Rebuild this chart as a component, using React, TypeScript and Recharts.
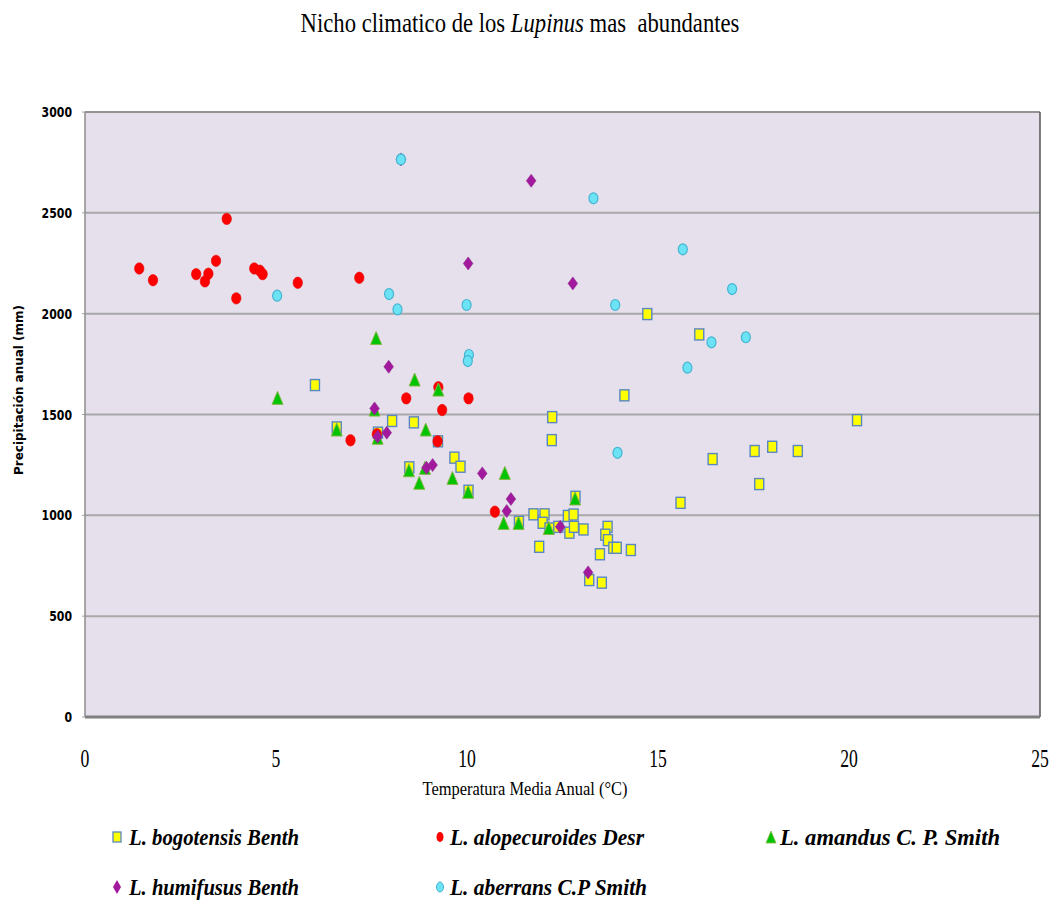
import { CartesianGrid, ReferenceLine, Scatter, ScatterChart, XAxis, YAxis } from "recharts";

// temperatura media anual (°C) / precipitación anual (mm)
const bogotensis = [
  { t: 6.02, p: 1646 }, { t: 6.59, p: 1436 }, { t: 7.67, p: 1410 }, { t: 8.04, p: 1468 },
  { t: 8.61, p: 1461 }, { t: 9.24, p: 1367 }, { t: 9.67, p: 1286 }, { t: 9.83, p: 1241 },
  { t: 8.49, p: 1238 }, { t: 10.04, p: 1122 }, { t: 11.74, p: 1005 }, { t: 11.36, p: 968 },
  { t: 12.23, p: 1487 }, { t: 12.22, p: 1373 }, { t: 12.03, p: 1005 }, { t: 11.98, p: 963 },
  { t: 12.16, p: 935 }, { t: 11.89, p: 844 }, { t: 12.39, p: 943 }, { t: 12.64, p: 997 },
  { t: 12.79, p: 1004 }, { t: 12.84, p: 1092 }, { t: 12.68, p: 914 }, { t: 12.8, p: 943 },
  { t: 13.05, p: 930 }, { t: 13.68, p: 943 }, { t: 13.62, p: 904 }, { t: 13.69, p: 877 },
  { t: 13.83, p: 839 }, { t: 13.92, p: 839 }, { t: 14.29, p: 828 }, { t: 13.48, p: 807 },
  { t: 13.2, p: 679 }, { t: 13.53, p: 666 }, { t: 14.72, p: 1998 }, { t: 16.08, p: 1897 },
  { t: 14.12, p: 1595 }, { t: 16.43, p: 1279 }, { t: 17.53, p: 1319 }, { t: 17.99, p: 1340 },
  { t: 18.66, p: 1319 }, { t: 17.65, p: 1155 }, { t: 15.59, p: 1062 }, { t: 20.21, p: 1472 },
];

const alopecuroides = [
  { t: 1.42, p: 2224 }, { t: 1.78, p: 2166 }, { t: 2.91, p: 2196 }, { t: 3.23, p: 2198 },
  { t: 3.14, p: 2160 }, { t: 3.43, p: 2262 }, { t: 3.71, p: 2470 }, { t: 3.96, p: 2076 },
  { t: 4.43, p: 2224 }, { t: 4.58, p: 2213 }, { t: 4.65, p: 2196 }, { t: 5.57, p: 2153 },
  { t: 7.18, p: 2178 }, { t: 8.41, p: 1580 }, { t: 9.25, p: 1635 }, { t: 10.04, p: 1580 },
  { t: 9.35, p: 1522 }, { t: 6.95, p: 1372 }, { t: 9.23, p: 1367 }, { t: 10.73, p: 1018 },
  { t: 7.64, p: 1402 },
];

const amandus = [
  { t: 7.62, p: 1877 }, { t: 8.63, p: 1671 }, { t: 9.25, p: 1621 }, { t: 5.04, p: 1580 },
  { t: 7.58, p: 1522 }, { t: 6.59, p: 1423 }, { t: 8.92, p: 1423 }, { t: 7.66, p: 1382 },
  { t: 8.48, p: 1221 }, { t: 8.9, p: 1233 }, { t: 8.75, p: 1159 }, { t: 9.62, p: 1183 },
  { t: 10.03, p: 1114 }, { t: 10.99, p: 1208 }, { t: 10.96, p: 960 }, { t: 11.35, p: 960 },
  { t: 12.14, p: 935 }, { t: 12.83, p: 1081 },
];

const humifusus = [
  { t: 7.95, p: 1737 }, { t: 7.58, p: 1530 }, { t: 7.9, p: 1410 }, { t: 7.66, p: 1390 },
  { t: 8.94, p: 1236 }, { t: 9.1, p: 1249 }, { t: 10.4, p: 1208 }, { t: 11.15, p: 1081 },
  { t: 11.04, p: 1021 }, { t: 12.44, p: 943 }, { t: 13.17, p: 717 }, { t: 12.77, p: 2150 },
  { t: 11.68, p: 2659 }, { t: 10.03, p: 2249 }, { t: 8.27, p: 2765 },
];

const aberrans = [
  { t: 5.03, p: 2089 }, { t: 7.96, p: 2097 }, { t: 8.18, p: 2021 }, { t: 13.31, p: 2572 },
  { t: 15.65, p: 2319 }, { t: 16.94, p: 2122 }, { t: 13.88, p: 2043 }, { t: 16.4, p: 1858 },
  { t: 17.3, p: 1883 }, { t: 15.77, p: 1732 }, { t: 13.94, p: 1310 }, { t: 9.99, p: 2043 },
  { t: 10.05, p: 1795 }, { t: 10.02, p: 1765 }, { t: 8.27, p: 2765 },
];

const xTicks = [0, 5, 10, 15, 20, 25];
const yTicks = [0, 500, 1000, 1500, 2000, 2500, 3000];

const serif = '"Liberation Serif", "Times New Roman", serif';
const sans = '"DejaVu Sans Condensed", "DejaVu Sans", sans-serif';

const COLORS = {
  yellow: "#FFFF00",
  yellowEdge: "#5A86C2",
  red: "#FF0000",
  green: "#00C400",
  greenEdge: "#86B84A",
  purple: "#A3199E",
  cyan: "#6BE3F4",
  cyanEdge: "#46B4D2",
};

type P = { cx?: number; cy?: number };

const SquareMark = ({ cx = 0, cy = 0 }: P) => (
  <rect x={cx - 4.5} y={cy - 5.5} width={9} height={11} fill={COLORS.yellow} stroke={COLORS.yellowEdge} strokeWidth={1.4} />
);
const RedMark = ({ cx = 0, cy = 0 }: P) => (
  <ellipse cx={cx} cy={cy} rx={4.7} ry={5.7} fill={COLORS.red} stroke="#E40000" strokeWidth={0.6} />
);
const TriangleMark = ({ cx = 0, cy = 0 }: P) => (
  <polygon
    points={`${cx},${cy - 7} ${cx + 5.5},${cy + 6} ${cx - 5.5},${cy + 6}`}
    fill={COLORS.green}
    stroke={COLORS.greenEdge}
    strokeWidth={1}
  />
);
const DiamondMark = ({ cx = 0, cy = 0 }: P) => (
  <polygon
    points={`${cx},${cy - 6.5} ${cx + 4.8},${cy} ${cx},${cy + 6.5} ${cx - 4.8},${cy}`}
    fill={COLORS.purple}
    stroke="#8E2A8E"
    strokeWidth={0.6}
  />
);
const CyanMark = ({ cx = 0, cy = 0 }: P) => (
  <ellipse cx={cx} cy={cy} rx={4.5} ry={5.5} fill={COLORS.cyan} stroke={COLORS.cyanEdge} strokeWidth={1.2} />
);

const XTick = ({ x = 0, y = 0, payload }: any) => (
  <text
    transform={`translate(${x},${y + 42}) scale(0.68,1)`}
    textAnchor="middle"
    fontFamily={serif}
    fontSize={26}
    fill="#000"
  >
    {payload.value}
  </text>
);

const YTick = ({ x = 0, y = 0, payload }: any) => {
  const s = String(payload.value);
  return (
    <text
      x={x - 8}
      y={y + 5}
      textAnchor="end"
      fontFamily={sans}
      fontWeight="bold"
      fontSize={14}
      textLength={s.length * 7.6}
      lengthAdjust="spacingAndGlyphs"
      fill="#000"
    >
      {s}
    </text>
  );
};

const legendText = {
  fontFamily: serif,
  fontWeight: "bold" as const,
  fontStyle: "italic" as const,
  fontSize: 24,
  fill: "#000",
  lengthAdjust: "spacingAndGlyphs" as const,
};

export default function App() {
  return (
    <div style={{ position: "absolute", left: 0, top: 0, width: 1050, height: 905, background: "#fff" }}>
      <ScatterChart width={1050} height={905} margin={{ top: 112, right: 10, left: 25, bottom: 138 }}>
        <CartesianGrid
          vertical={false}
          horizontalValues={yTicks}
          stroke="#A8A8A8"
          strokeWidth={2}
          fill="#E5E0EC"
          fillOpacity={1}
        />
        <XAxis
          type="number"
          dataKey="t"
          domain={[0, 25]}
          ticks={xTicks}
          height={50}
          tick={<XTick />}
          tickLine={false}
          axisLine={{ stroke: "#7F7F7F", strokeWidth: 3 }}
          allowDataOverflow
        />
        <YAxis
          type="number"
          dataKey="p"
          domain={[0, 3000]}
          ticks={yTicks}
          width={60}
          tick={<YTick />}
          tickSize={3}
          tickLine={{ stroke: "#A0A0A0" }}
          axisLine={{ stroke: "#8C8C8C", strokeWidth: 1.5 }}
          allowDataOverflow
        />
        <ReferenceLine y={3000} stroke="#8C8C8C" strokeWidth={1.5} />
        <ReferenceLine x={25} stroke="#555" strokeWidth={1.5} />
        <Scatter name="L. bogotensis Benth" data={bogotensis} shape={<SquareMark />} isAnimationActive={false} />
        <Scatter name="L. alopecuroides Desr" data={alopecuroides} shape={<RedMark />} isAnimationActive={false} />
        <Scatter name="L. amandus C. P. Smith" data={amandus} shape={<TriangleMark />} isAnimationActive={false} />
        <Scatter name="L. humifusus Benth" data={humifusus} shape={<DiamondMark />} isAnimationActive={false} />
        <Scatter name="L. aberrans C.P Smith" data={aberrans} shape={<CyanMark />} isAnimationActive={false} />
      </ScatterChart>

      <svg
        width={1050}
        height={905}
        style={{ position: "absolute", left: 0, top: 0, pointerEvents: "none" }}
      >
        <text
          transform="translate(520,32) scale(0.84,1)"
          textAnchor="middle"
          fontFamily={serif}
          fontSize={27}
          style={{ whiteSpace: "pre" }}
        >
          Nicho climatico de los <tspan fontStyle="italic">Lupinus</tspan> mas  abundantes
        </text>

        <text
          x={525}
          y={795}
          textAnchor="middle"
          fontFamily={serif}
          fontSize={18}
          textLength={205}
          lengthAdjust="spacingAndGlyphs"
        >
          Temperatura Media Anual (°C)
        </text>

        <text
          transform="translate(23,390) rotate(-90)"
          textAnchor="middle"
          fontFamily={sans}
          fontWeight="bold"
          fontSize={13}
          textLength={170}
          lengthAdjust="spacingAndGlyphs"
        >
          Precipitación anual (mm)
        </text>

        <g>
          <rect x={113} y={832} width={8} height={10} fill={COLORS.yellow} stroke={COLORS.yellowEdge} strokeWidth={1.3} />
          <text x={129} y={845} textLength={170} {...legendText}>L. bogotensis Benth</text>

          <ellipse cx={440} cy={837} rx={3.5} ry={5} fill={COLORS.red} />
          <text x={450} y={845} textLength={194} {...legendText}>L. alopecuroides Desr</text>

          <polygon points="771,831 776,843 766,843" fill={COLORS.green} stroke={COLORS.greenEdge} strokeWidth={0.8} />
          <text x={780} y={845} textLength={220} {...legendText}>L. amandus C. P. Smith</text>

          <polygon points="117,880 121,887 117,894 113,887" fill={COLORS.purple} />
          <text x={129} y={895} textLength={170} {...legendText}>L. humifusus Benth</text>

          <ellipse cx={440} cy={887} rx={3.5} ry={5} fill={COLORS.cyan} stroke={COLORS.cyanEdge} strokeWidth={1} />
          <text x={450} y={895} textLength={197} {...legendText}>L. aberrans C.P Smith</text>
        </g>
      </svg>
    </div>
  );
}
